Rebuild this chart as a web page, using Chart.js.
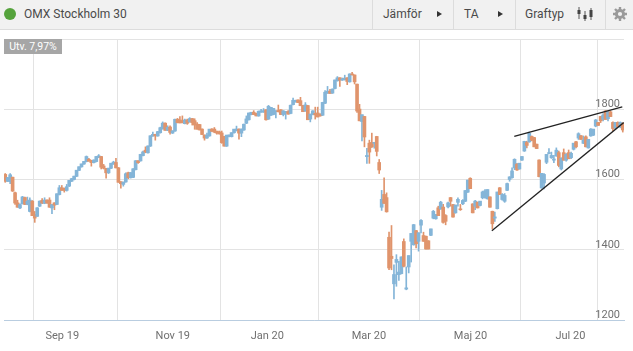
<!DOCTYPE html>
<html lang="sv">
<head>
<meta charset="UTF-8">
<title>OMX Stockholm 30</title>
<script src="https://cdn.jsdelivr.net/npm/chart.js"></script>
<style>
    html, body { margin: 0; padding: 0; background: #fff; }
    body { width: 633px; height: 351px; position: relative; overflow: hidden; font-family: Roboto, sans-serif; }
    #chartBox { position: absolute; left: 0; top: 0; width: 633px; height: 351px; }
    .bar { position: absolute; left: 0; top: 0; width: 633px; height: 29px; background: #f1f1f1; border-bottom: 1px solid #dcdcdc; color: #4a4a4a; font-size: 12px; line-height: 29px; }
    .bar span { position: absolute; top: 0; white-space: nowrap; }
    .dot { position: absolute; left: 4px; top: 8px; width: 12px; height: 12px; border-radius: 50%; background: #55a33c; }
    .sep { position: absolute; top: 0; width: 1px; height: 29px; background: #dcdcdc; }
    .tri { position: absolute; top: 11px; width: 0; height: 0; border-left: 5px solid #333; border-top: 3.5px solid transparent; border-bottom: 3.5px solid transparent; }
    .utv { position: absolute; left: 4px; top: 39px; width: 58px; height: 15px; background: #a6a6a6; color: #fff; font-size: 10.5px; line-height: 15px; text-align: center; }
    svg { position: absolute; }
</style>
</head>
<body>
<div id="chartBox"><canvas id="myChart" width="633" height="351"></canvas></div>
<div class="bar">
    <div class="dot"></div>
    <span style="left:24px">OMX Stockholm 30</span>
    <div class="sep" style="left:372px"></div>
    <span style="left:383px">Jämför</span>
    <div class="tri" style="left:437px"></div>
    <div class="sep" style="left:453px"></div>
    <span style="left:464px">TA</span>
    <div class="tri" style="left:498px"></div>
    <div class="sep" style="left:515px"></div>
    <span style="left:525px">Graftyp</span>
    <svg style="left:577px;top:7px" width="16" height="14">
        <path d="M2 0v12M8 4v10M14 1v12" stroke="#555" stroke-width="1"/>
        <path d="M2 3v4M8 8v4M14 3v7" stroke="#444" stroke-width="3"/>
    </svg>
    <div class="sep" style="left:605px"></div>
    <svg style="left:613px;top:7px" width="14" height="14" viewBox="0 0 14 14">
        <circle cx="7" cy="7" r="3.6" fill="none" stroke="#9a9a9a" stroke-width="3"/>
        <path d="M7 0v3M7 11v3M0 7h3M11 7h3M2 2l2 2M10 10l2 2M12 2l-2 2M4 10l-2 2" stroke="#9a9a9a" stroke-width="2.4"/>
    </svg>
</div>
<div class="utv">Utv. 7,97%</div>

<script>
    const opens = [1614,1595,1594,1606,1562,1533,1519,1531,1548,1529,1509,1538,1500,1495,1524,1540,1532,1541,1541,1519,1533,1529,1557,1576,1574,1569,1581,1595,1600,1609,1626,1636,1644,1651,1657,1654,1648,1651,1663,1665,1638,1631,1619,1632,1644,1648,1633,1593,1586,1593,1619,1605,1606,1628,1653,1653,1668,1683,1676,1695,1724,1728,1724,1733,
        1745,1760,1740,1749,1732,1738,1771,1769,1767,1759,1769,1764,1773,1767,1757,1756,1743,1726,1718,1724,1743,1743,1737,1735,1732,1722,1695,1722,1722,1733,1739,1743,1732,1741,1760,1770,1785,1791,1788,1781,1792,1792,1798,1772,1783,1785,1793,1796,1798,1785,1791,1793,1788,1813,1821,1826,1824,1810,1795,1810,1772,1785,1788,1789,
        1786,1783,1817,1846,1851,1846,1859,1881,1889,1883,1884,1889,1878,1900,1897,
        1871,1800,1765,1779,1665,1703,1705,1703,1722,1648,1521,1557,1548,1435,1381,1303,1364,1329,1332,1423,1288,1351,1424,1414,1454,1424,1470,1440,1438,1425,1441,
        1490,1488,1519,1516,1521,1497,1522,1548,1528,1505,1535,1516,1531,1538,1564,1603,1530,1524,1535,1526,1548,1548,1545,1550,1509,1490,1517,1576,1543,1538,1569,1600,1605,1633,1643,1630,1655,1681,1705,1707,1722,1719,1700,1655,1576,1590,1649,1674,1662,1655,1667,1676,1630,1676,1655,1676,1662,1686,1707,1718,1724,1703,1721,1690,1724,1726,1752,1762,1779,1771,1795,1773,1792,1762,1747,1762,1750,1759];
    const highs = [1617,1606,1617,1607,1564,1541,1531,1552,1550,1550,1548,1540,1509,1520,1539,1546,1548,1542,1548,1529,1534,1559,1583,1583,1576,1586,1597,1603,1610,1626,1636,1644,1652,1667,1660,1655,1656,1666,1671,1666,1643,1632,1632,1646,1652,1660,1634,1594,1593,1619,1621,1620,1631,1654,1654,1672,1681,1693,1696,1725,1735,1729,1737,1749,
        1764,1761,1753,1753,1739,1772,1774,1779,1781,1772,1772,1776,1774,1773,1762,1757,1744,1727,1732,1743,1745,1748,1738,1738,1738,1723,1726,1727,1733,1743,1752,1744,1744,1758,1781,1789,1791,1796,1789,1795,1800,1802,1799,1811,1805,1802,1796,1812,1799,1796,1794,1796,1812,1832,1826,1827,1834,1811,1819,1811,1786,1796,1806,1806,
        1787,1820,1853,1865,1857,1858,1883,1893,1890,1889,1897,1890,1901,1905,1898,
        1872,1814,1784,1780,1689,1712,1732,1706,1723,1657,1569,1605,1562,1450,1469,1357,1386,1367,1380,1431,1351,1383,1446,1472,1455,1448,1486,1450,1439,1426,1459,
        1512,1500,1524,1538,1529,1500,1536,1549,1529,1527,1548,1529,1543,1569,1598,1605,1531,1541,1536,1538,1567,1571,1571,1551,1510,1507,1564,1577,1560,1560,1590,1608,1633,1659,1646,1646,1665,1709,1709,1735,1724,1720,1701,1656,1617,1617,1671,1688,1678,1669,1690,1681,1662,1687,1674,1684,1678,1703,1709,1733,1726,1724,1724,1714,1745,1743,1771,1763,1780,1788,1796,1795,1795,1764,1762,1764,1764,1762];
    const lows = [1592,1594,1588,1566,1529,1521,1517,1530,1528,1528,1508,1497,1478,1495,1523,1531,1531,1532,1521,1503,1514,1528,1556,1569,1564,1567,1580,1594,1599,1608,1625,1635,1643,1650,1652,1638,1647,1650,1662,1630,1630,1604,1617,1631,1643,1633,1592,1575,1581,1592,1602,1604,1605,1627,1646,1652,1667,1676,1675,1694,1723,1712,1723,1732,
        1743,1740,1739,1729,1731,1737,1761,1761,1761,1758,1757,1763,1755,1743,1743,1741,1728,1712,1717,1723,1737,1733,1729,1729,1703,1695,1694,1721,1721,1732,1738,1715,1722,1740,1759,1769,1784,1785,1781,1780,1791,1791,1769,1771,1782,1784,1775,1792,1785,1781,1772,1786,1787,1812,1820,1819,1810,1793,1794,1770,1764,1784,1772,1778,
        1780,1782,1816,1845,1845,1845,1858,1880,1865,1882,1883,1870,1877,1897,1872,
        1791,1767,1710,1693,1646,1646,1691,1689,1667,1617,1512,1532,1507,1343,1343,1260,1296,1313,1331,1351,1286,1334,1365,1413,1405,1396,1448,1424,1402,1402,1440,
        1488,1487,1497,1515,1476,1471,1519,1524,1493,1504,1524,1512,1528,1537,1563,1574,1505,1514,1519,1525,1545,1547,1544,1521,1459,1481,1516,1557,1541,1535,1568,1595,1604,1628,1626,1629,1654,1680,1690,1706,1710,1693,1688,1607,1575,1573,1645,1673,1660,1648,1666,1636,1627,1655,1652,1659,1659,1684,1690,1714,1714,1702,1693,1689,1723,1725,1750,1754,1762,1767,1771,1767,1779,1738,1743,1750,1747,1735];
    const closes = [1595,1605,1613,1567,1533,1521,1528,1550,1529,1538,1541,1497,1490,1519,1538,1533,1541,1533,1521,1528,1527,1559,1576,1569,1569,1579,1597,1602,1609,1626,1636,1644,1651,1665,1652,1648,1655,1665,1667,1635,1632,1619,1632,1646,1649,1633,1592,1588,1592,1616,1605,1619,1630,1653,1648,1671,1678,1678,1695,1724,1728,1724,1736,1747,
        1760,1740,1748,1734,1738,1771,1762,1761,1762,1769,1760,1773,1762,1755,1743,1741,1728,1718,1726,1743,1737,1735,1732,1730,1705,1695,1726,1726,1733,1743,1743,1732,1743,1757,1772,1789,1791,1785,1781,1794,1795,1795,1770,1808,1805,1802,1795,1793,1785,1795,1793,1786,1811,1825,1825,1819,1810,1793,1812,1770,1786,1795,1784,1778,
        1781,1819,1848,1851,1845,1857,1883,1889,1883,1886,1888,1879,1900,1898,1878,
        1795,1767,1784,1721,1668,1678,1693,1705,1680,1627,1543,1532,1508,1348,1375,1329,1372,1336,1379,1353,1291,1383,1446,1471,1417,1448,1483,1424,1402,1402,1459,
        1509,1500,1497,1535,1478,1481,1533,1538,1493,1527,1543,1514,1540,1568,1598,1574,1505,1538,1519,1538,1564,1567,1571,1521,1474,1493,1564,1557,1557,1554,1588,1607,1624,1657,1627,1646,1665,1708,1697,1731,1712,1693,1688,1608,1617,1614,1671,1676,1668,1658,1683,1640,1660,1655,1671,1659,1674,1703,1693,1730,1714,1712,1693,1714,1743,1743,1769,1754,1767,1783,1771,1792,1779,1745,1762,1750,1762,1741];

    // tick labels and where the months start (in trading days)
    const monthLabels = ['Sep 19', 'Nov 19', 'Jan 20', 'Mar 20', 'Maj 20', 'Jul 20'];
    const monthDays = [23.2, 68.1, 106.5, 147.8, 189.1, 229.7];
    const priceTicks = [1200, 1400, 1600, 1800, 2000];

    // hand drawn trend lines, [day, price]
    const upperTrendDays = [206.9, 250.8];
    const upperTrendPrices = [1723, 1807];
    const lowerTrendDays = [197.8, 251.4];
    const lowerTrendPrices = [1454, 1762];

    const UP = '#84b5d8';
    const DOWN = '#e0946c';
    const candleColors = closes.map((c, i) => c >= opens[i] ? UP : DOWN);
    const firstDay = -0.5;
    const lastDay = closes.length - 0.5;

    const wicks = closes.map((c, i) => ({ x: i, y: [lows[i], highs[i]] }));
    const bodies = closes.map((c, i) => ({ x: i, y: [Math.min(opens[i], c), Math.max(opens[i], c) + 0.5] }));

    new Chart(document.getElementById('myChart'), {
        data: {
            datasets: [
                { type: 'scatter', data: upperTrendDays.map((d, i) => ({ x: d, y: upperTrendPrices[i] })), showLine: true, borderColor: '#222', borderWidth: 1.3, pointRadius: 0, order: 0 },
                { type: 'scatter', data: lowerTrendDays.map((d, i) => ({ x: d, y: lowerTrendPrices[i] })), showLine: true, borderColor: '#222', borderWidth: 1.3, pointRadius: 0, order: 0 },
                { type: 'bar', data: wicks, backgroundColor: candleColors, barThickness: 1, grouped: false, order: 2 },
                { type: 'bar', data: bodies, backgroundColor: candleColors, barThickness: 3, grouped: false, order: 1 }
            ]
        },
        options: {
            responsive: false,
            animation: false,
            layout: { padding: { left: 4, right: 9, top: 39, bottom: 0 } },
            plugins: { legend: { display: false }, tooltip: { enabled: false } },
            scales: {
                x: {
                    type: 'linear',
                    min: firstDay,
                    max: lastDay,
                    offset: false,
                    afterFit: (scale) => { scale.height = 31; },
                    afterBuildTicks: (scale) => {
                        scale.ticks = [firstDay].concat(monthDays, [lastDay]).map(v => ({ value: v }));
                    },
                    // the gap under the axis comes from an invisible tick mark, ticks.padding would shrink the plot
                    grid: { color: '#e3e3e3', lineWidth: 1, drawTicks: true, tickLength: 10, tickColor: 'rgba(0,0,0,0)' },
                    border: { display: true, color: '#b9cde0' },
                    ticks: {
                        autoSkip: false,
                        maxRotation: 0,
                        padding: 0,
                        color: '#707070',
                        font: { family: 'Roboto', size: 11 },
                        callback: (v) => { const k = monthDays.indexOf(v); return k < 0 ? '' : monthLabels[k]; }
                    }
                },
                y: {
                    position: 'right',
                    min: 1200,
                    max: 2000,
                    afterFit: (scale) => { scale.width = 0; },
                    afterBuildTicks: (scale) => { scale.ticks = priceTicks.map(v => ({ value: v })); },
                    grid: { color: '#e3e3e3', lineWidth: 1, drawTicks: false },
                    border: { display: false },
                    ticks: {
                        mirror: true,
                        padding: -4,
                        labelOffset: -5,
                        color: '#707070',
                        font: { family: 'Roboto', size: 11 },
                        callback: (v) => v === 2000 ? '' : String(v)
                    }
                }
            }
        }
    });
</script>
</body>
</html>
